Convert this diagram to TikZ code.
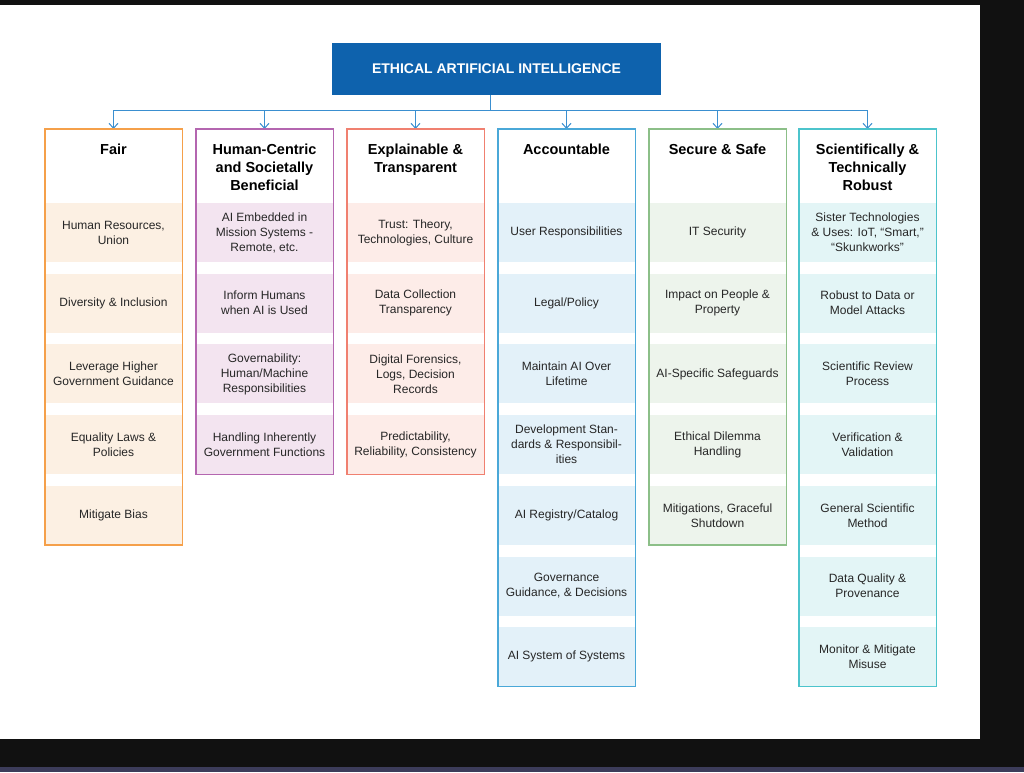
\documentclass[tikz,border=0pt]{standalone}
\usepackage{fontspec}
\setmainfont{Liberation Sans}
\usetikzlibrary{arrows.meta}
\definecolor{bgdark}{HTML}{111111}
\definecolor{strip}{HTML}{3C3C5A}
\definecolor{tblue}{HTML}{0E62AD}
\definecolor{lblue}{HTML}{3A8FD0}
\definecolor{cA}{HTML}{F5A04A}\definecolor{fA}{HTML}{FCF0E3}
\definecolor{cB}{HTML}{B466B0}\definecolor{fB}{HTML}{F3E4F0}
\definecolor{cC}{HTML}{F08070}\definecolor{fC}{HTML}{FDECE8}
\definecolor{cD}{HTML}{4AA8D8}\definecolor{fD}{HTML}{E3F1F9}
\definecolor{cE}{HTML}{8CBF88}\definecolor{fE}{HTML}{EDF4EC}
\definecolor{cF}{HTML}{4CC4CC}\definecolor{fF}{HTML}{E3F5F6}
\begin{document}
\begin{tikzpicture}[x=1pt,y=-1pt,
 item/.style={minimum width=137pt,minimum height=59pt,inner sep=0pt,align=center,font=\fontsize{12}{15}\selectfont,text=black!85},
 head/.style={anchor=north,align=center,font=\bfseries\fontsize{14.5}{18}\selectfont},
 frame/.style={draw,line width=1.2pt,fill=none},
 conn/.style={lblue,line width=1pt},
 arr/.style={conn,-{Straight Barb[length=5pt,width=9pt]}}]
\useasboundingbox (0,0) rectangle (1024,772);
\fill[bgdark] (0,0) rectangle (1024,772);
\fill[strip] (0,767) rectangle (1024,772);
\fill[white] (0,5) rectangle (980,739);
\node[fill=tblue,minimum width=329pt,minimum height=52pt,text=white,font=\bfseries\fontsize{14}{16}\selectfont] (title) at (496.5,69) {ETHICAL ARTIFICIAL INTELLIGENCE};
\coordinate (j) at (490,110);
\coordinate (jl) at (114,110);
\coordinate (jr) at (867,110);
\draw[conn] (title.south -| j) -- (j);
\draw[conn] (jl) -- (jr);
\foreach \k/\x/\h in {A/45/{Fair},B/196/{Human-Centric\\and Societally\\Beneficial},C/347/{Explainable \&\\Transparent},D/498/{Accountable},E/649/{Secure \& Safe},F/799/{Scientifically \&\\Technically\\Robust}}{
 \coordinate (top\k) at (\x+68.5,129);
 \draw[arr] (\x+68.5,110) -- (top\k);
 \node[head] (h\k) at (\x+68.5,140) {\h};
}
\def\col#1#2#3{%
 \foreach \t [count=\i] in {#3}{
  \node[item,fill=f#1] (i#1\i) at (#2+68.5,232.5+70.7*\i-70.7) {\t};
 }}
\col{A}{45}{{Human Resources,\\Union},{Diversity \& Inclusion},{Leverage Higher\\Government Guidance},{Equality Laws \&\\Policies},{Mitigate Bias}}
\col{B}{196}{{AI Embedded in\\Mission Systems -\\Remote, etc.},{Inform Humans\\when AI is Used},{Governability:\\Human/Machine\\Responsibilities},{Handling Inherently\\Government Functions}}
\col{C}{347}{{Trust: Theory,\\Technologies, Culture},{Data Collection\\Transparency},{Digital Forensics,\\Logs, Decision\\Records},{Predictability,\\Reliability, Consistency}}
\col{D}{498}{{User Responsibilities},{Legal/Policy},{Maintain AI Over\\Lifetime},{Development Stan-\\dards \& Responsibil-\\ities},{AI Registry/Catalog},{Governance\\Guidance, \& Decisions},{AI System of Systems}}
\col{E}{649}{{IT Security},{Impact on People \&\\Property},{AI-Specific Safeguards},{Ethical Dilemma\\Handling},{Mitigations, Graceful\\Shutdown}}
\col{F}{799}{{Sister Technologies\\\& Uses: IoT, “Smart,”\\“Skunkworks”},{Robust to Data or\\Model Attacks},{Scientific Review\\Process},{Verification \&\\Validation},{General Scientific\\Method},{Data Quality \&\\Provenance},{Monitor \& Mitigate\\Misuse}}
\draw[frame,cA] (45,129) rectangle (iA5.south east);
\draw[frame,cB] (196,129) rectangle (iB4.south east);
\draw[frame,cC] (347,129) rectangle (iC4.south east);
\draw[frame,cD] (498,129) rectangle (iD7.south east);
\draw[frame,cE] (649,129) rectangle (iE5.south east);
\draw[frame,cF] (799,129) rectangle (iF7.south east);
\end{tikzpicture}
\end{document}
